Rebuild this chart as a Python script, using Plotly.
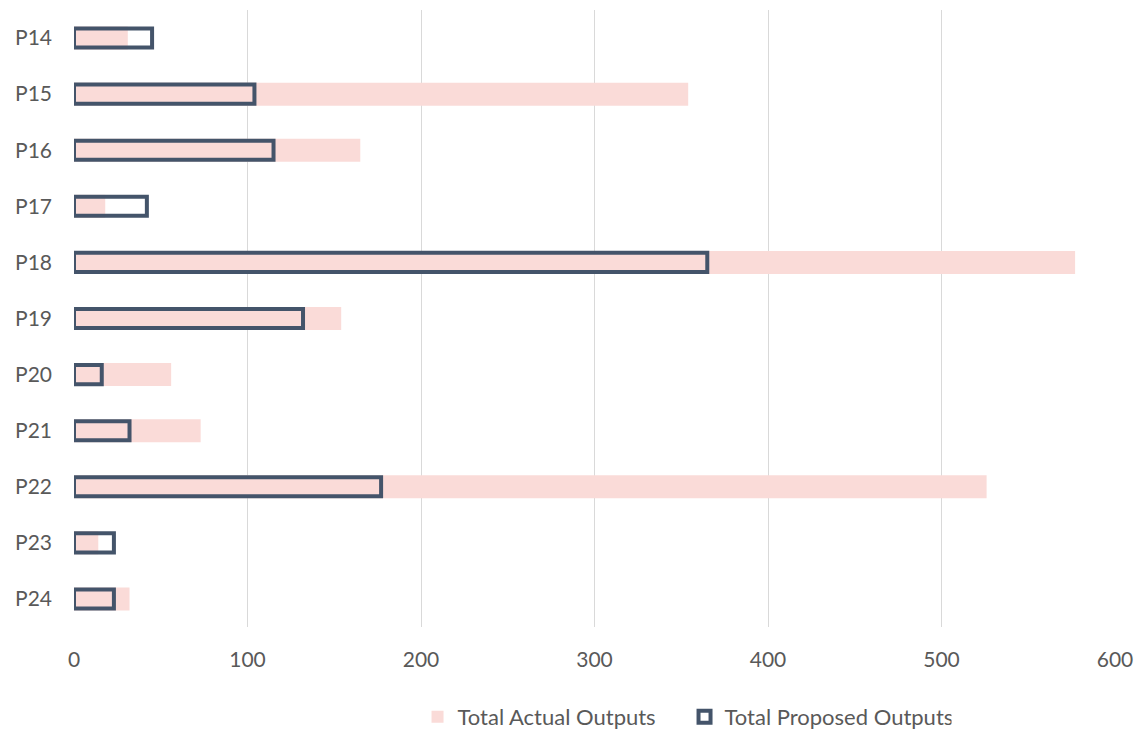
import plotly.graph_objects as go

categories = ["P14", "P15", "P16", "P17", "P18", "P19", "P20", "P21", "P22", "P23", "P24"]
actual_outputs = [31, 354, 165, 18, 577, 154, 56, 73, 526, 14, 32]
proposed_outputs = [45, 104, 115, 42, 365, 132, 16, 32, 177, 23, 23]
x_ticks = [0, 100, 200, 300, 400, 500, 600]

FONT = "Lato, 'Source Sans Pro', 'Noto Sans', sans-serif"
PINK = "#FADBD8"
DARK = "#44546A"
GRAY = "#595959"

fig = go.Figure()
fig.add_trace(go.Bar(
    y=categories, x=actual_outputs, orientation="h",
    name="Total Actual Outputs",
    marker=dict(color=PINK, line=dict(width=0)),
    width=0.41,
))
fig.add_trace(go.Bar(
    y=categories, x=proposed_outputs, orientation="h",
    name="Total Proposed Outputs",
    marker=dict(color="rgba(0,0,0,0)", line=dict(color=DARK, width=4)),
    width=0.34,
))

fig.update_layout(
    width=1143, height=733,
    margin=dict(l=74, r=28, t=10, b=106, autoexpand=False),
    paper_bgcolor="white", plot_bgcolor="white",
    barmode="overlay",
    font=dict(family=FONT, size=21, color=GRAY),
    legend=dict(
        orientation="h", x=0.33, xanchor="left",
        yref="container", y=1 - 717 / 733, yanchor="middle",
        font=dict(family=FONT, size=22, color=GRAY),
        itemwidth=30, traceorder="normal", entrywidth=222,
    ),
    showlegend=True,
)
fig.update_xaxes(
    range=[0, 600], tickvals=x_ticks, showgrid=True, gridcolor="#D9D9D9", gridwidth=1,
    zeroline=False, showline=False, ticks="", ticklabelstandoff=18,
    tickfont=dict(family=FONT, size=21, color=GRAY),
)
fig.update_yaxes(
    autorange="reversed", showgrid=False, zeroline=False, showline=False, ticks="",
    ticklabelstandoff=21, tickfont=dict(family=FONT, size=21, color=GRAY),
)

fig.write_html("out.html")
